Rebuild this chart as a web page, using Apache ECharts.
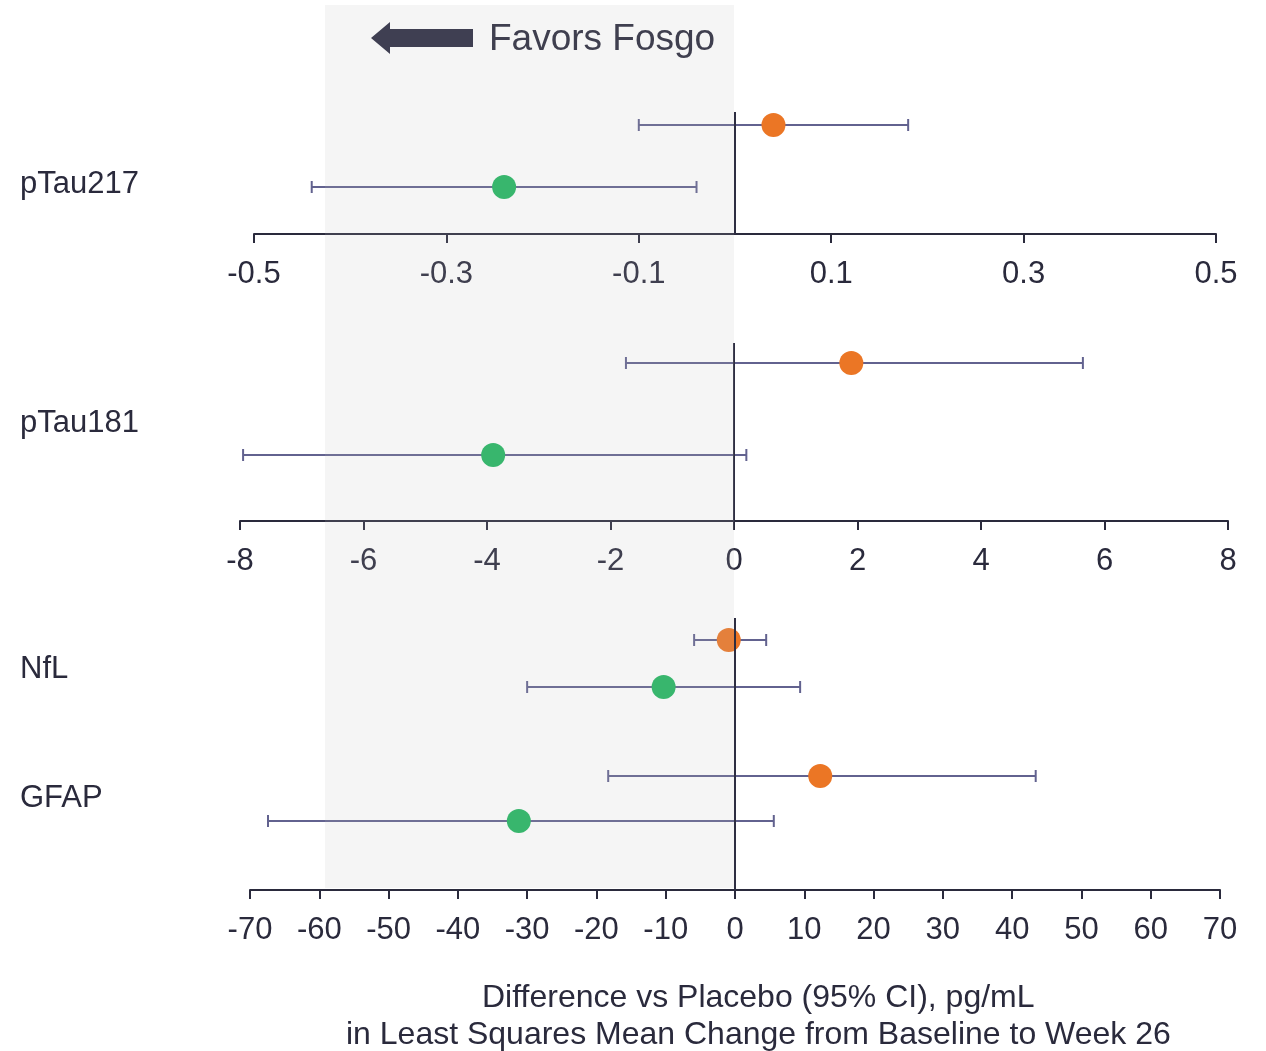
<!DOCTYPE html>
<html><head><meta charset="utf-8">
<script src="https://cdn.jsdelivr.net/npm/echarts@6/dist/echarts.min.js"></script>
<style>html,body{margin:0;padding:0;background:#fff}#c{width:1266px;height:1051px}</style>
</head><body><div id="c"></div>
<script>
// ---- data ----
const biomarkers = ['pTau217', 'pTau181', 'NfL', 'GFAP'];
const orangeEst  = [0.04, 1.9, -0.9, 12.3];
const orangeLow  = [-0.10, -1.75, -5.9, -18.3];
const orangeHigh = [0.18, 5.65, 4.5, 43.4];
const greenEst   = [-0.24, -3.9, -10.3, -31.2];
const greenLow   = [-0.44, -7.95, -30.0, -67.4];
const greenHigh  = [-0.04, 0.2, 9.4, 5.6];
const axisMin      = [-0.5, -8, -70];
const axisMax      = [0.5, 8, 70];
const axisInterval = [0.2, 2, 10];
const axisTitle = ['Difference vs Placebo (95% CI), pg/mL', 'in Least Squares Mean Change from Baseline to Week 26'];

// ---- layout (not data) ----
const panelOf = [0, 1, 2, 2];
const grids = [
  {left: 254, right: 50, top: 112, height: 122},
  {left: 240, right: 38, top: 343, height: 178},
  {left: 250, right: 46, top: 618, height: 272}
];
const rowOrange = [109, 158, 250, 114];
const rowGreen  = [47, 66, 203, 69];
const labelY = [183, 422, 668, 797];

const TXT = '#2a2a3c', BAR = '#62628f', ORANGE = '#eb7625', GREEN = '#22b560';
const FONT = '"Liberation Sans", Arial, sans-serif';

function barData(est, low, high, rows) {
  return biomarkers.map((b, i) => ({panel: panelOf[i], value: [low[i], high[i], rows[i], est[i]]}));
}
function renderBar(params, api) {
  const lo = api.coord([api.value(0), api.value(2)]);
  const hi = api.coord([api.value(1), api.value(2)]);
  const h = 6;
  const st = {stroke: BAR, lineWidth: 2};
  return {type: 'group', children: [
    {type: 'line', shape: {x1: lo[0], y1: lo[1], x2: hi[0], y2: hi[1]}, style: st},
    {type: 'line', shape: {x1: lo[0], y1: lo[1] - h, x2: lo[0], y2: lo[1] + h}, style: st},
    {type: 'line', shape: {x1: hi[0], y1: hi[1] - h, x2: hi[0], y2: hi[1] + h}, style: st}
  ]};
}

const series = [];
grids.forEach((g, p) => {
  const oB = barData(orangeEst, orangeLow, orangeHigh, rowOrange).filter(d => d.panel === p).map(d => d.value);
  const gB = barData(greenEst, greenLow, greenHigh, rowGreen).filter(d => d.panel === p).map(d => d.value);
  series.push({type: 'custom', xAxisIndex: p, yAxisIndex: p, renderItem: renderBar, data: oB.concat(gB), z: 2, silent: true,
    markLine: {silent: true, symbol: 'none', label: {show: false}, lineStyle: {color: '#2e2e42', width: 2, type: 'solid'}, data: [{xAxis: 0}]}});
  series.push({type: 'scatter', name: 'Orange', xAxisIndex: p, yAxisIndex: p, symbolSize: 24, itemStyle: {color: ORANGE, opacity: 1}, z: 3,
    data: oB.map(v => [v[3], v[2]])});
  series.push({type: 'scatter', name: 'Green', xAxisIndex: p, yAxisIndex: p, symbolSize: 24, itemStyle: {color: GREEN, opacity: 1}, z: 3,
    data: gB.map(v => [v[3], v[2]])});
});

const chart = echarts.init(document.getElementById('c'), null, {renderer: 'canvas'});
chart.setOption({
  animation: false,
  grid: grids,
  xAxis: grids.map((g, p) => ({
    type: 'value', gridIndex: p, min: axisMin[p], max: axisMax[p], interval: axisInterval[p],
    splitLine: {show: false},
    axisLine: {show: true, onZero: false, lineStyle: {color: TXT, width: 2}},
    axisTick: {show: true, length: 9, lineStyle: {color: TXT, width: 2}},
    axisLabel: {color: TXT, fontSize: 31, fontFamily: FONT, margin: 25,
      formatter: v => p === 0 ? (+v).toFixed(1) : String(Math.round(v))}
  })),
  yAxis: grids.map((g, p) => ({type: 'value', gridIndex: p, min: 0, max: g.height, show: false})),
  series: series,
  graphic: [
    ...biomarkers.map((b, i) => ({type: 'text', left: 20, top: labelY[i] - 14,
      style: {text: b, fill: TXT, font: '31px ' + FONT}})),
    {type: 'text', left: 482, top: 982, style: {text: axisTitle[0], fill: TXT, font: '32px ' + FONT}},
    {type: 'text', left: 346, top: 1019, style: {text: axisTitle[1], fill: TXT, font: '32px ' + FONT}},
    {type: 'polygon', shape: {points: [[371, 38], [390, 22], [390, 29], [473, 29], [473, 47], [390, 47], [390, 54]]},
      style: {fill: '#2a2a40'}, z: 10},
    {type: 'text', left: 489, top: 21, style: {text: 'Favors Fosgo', fill: TXT, font: '37px ' + FONT}, z: 10},
    {type: 'rect', shape: {x: 325, y: 5, width: 409, height: 883}, style: {fill: 'rgba(190,190,190,0.15)'}, z: 100, silent: true}
  ]
});
</script></body></html>
